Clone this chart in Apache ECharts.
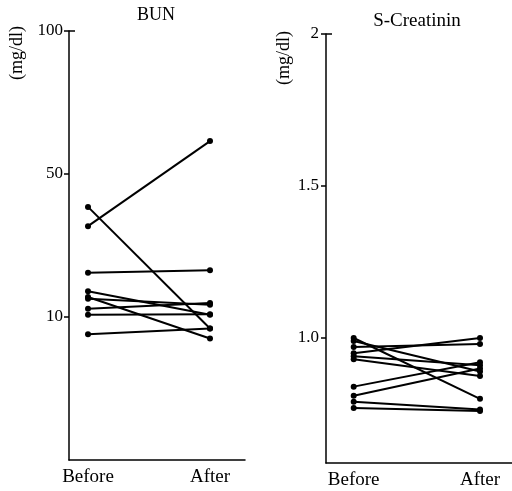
<!DOCTYPE html>
<html>
<head>
<meta charset="utf-8">
<script src="https://cdn.jsdelivr.net/npm/echarts@6/dist/echarts.min.js"></script>
<style>
html, body { margin: 0; padding: 0; background: #fff; }
#echart { width: 512px; height: 491px; }
</style>
</head>
<body>
<div id="echart"></div>
<script>
// 横轴分类
const categories = ['Before', 'After']
// BUN (mg/dl)，每个下标对应一个病例
const bunBefore = [35.4, 40.8, 22.4, 17.2, 15.6, 15.1, 12.3, 10.6, 8.8]
const bunAfter = [61.5, 9.2, 23.1, 10.6, 8.5, 13.4, 13.9, 10.8, 9.2]
// BUN 纵轴刻度在原图中是等距画的
const bunTicks = [0, 10, 50, 100]
const bunTickLabels = ['', '10', '50', '100']
// S-Creatinin (mg/dl)
const creBefore = [1.0, 0.99, 0.97, 0.95, 0.94, 0.93, 0.84, 0.81, 0.79, 0.77]
const creAfter = [0.80, 0.89, 0.98, 1.0, 0.91, 0.875, 0.92, 0.90, 0.765, 0.76]
const creTicks = [1, 1.5, 2]
const creTickLabels = ['1.0', '1.5', '2']

const FONT = 'Liberation Serif'

// mg/dl -> BUN 轴位置（分段线性）
function toBunAxis(v) {
  for (let i = 0; i < bunTicks.length - 1; i++) {
    if (v <= bunTicks[i + 1] || i === bunTicks.length - 2) {
      return i + (v - bunTicks[i]) / (bunTicks[i + 1] - bunTicks[i])
    }
  }
}

function lineSeries(before, after, idx, conv) {
  return before.map((b, i) => ({
    type: 'line',
    xAxisIndex: idx,
    yAxisIndex: idx,
    data: [[0, conv(b)], [1, conv(after[i])]],
    symbol: 'circle',
    symbolSize: 6,
    lineStyle: { color: '#000', width: 2 },
    itemStyle: { color: '#000' },
    silent: true,
    animation: false
  }))
}

function xAxisOf(grid, min, max) {
  return {
    type: 'value',
    gridIndex: grid,
    min: min,
    max: max,
    axisLine: { show: true, onZero: false, lineStyle: { color: '#000', width: 1.5 } },
    axisTick: { show: false },
    splitLine: { show: false },
    axisLabel: {
      customValues: [0, 1],
      formatter: v => categories[Math.round(v)],
      margin: 8,
      color: '#000',
      fontFamily: FONT,
      fontSize: 19
    }
  }
}

function yAxisOf(grid, min, max, ticks, fmt, margin) {
  return {
    type: 'value',
    gridIndex: grid,
    position: 'left',
    min: min,
    max: max,
    axisLine: { show: true, onZero: false, lineStyle: { color: '#000', width: 1.5 } },
    axisTick: { show: true, customValues: ticks, length: 5, lineStyle: { color: '#000', width: 1.5 } },
    splitLine: { show: false },
    axisLabel: {
      customValues: ticks,
      formatter: fmt,
      margin: margin,
      color: '#000',
      fontFamily: FONT,
      fontSize: 17
    }
  }
}

// 轴顶端向右的短刻度
function topTickAxis(grid, min, max) {
  return {
    type: 'value',
    gridIndex: grid,
    position: 'left',
    min: min,
    max: max,
    axisLine: { show: false, onZero: false },
    axisLabel: { show: false },
    splitLine: { show: false },
    axisTick: { show: true, inside: true, customValues: [max], length: 6, lineStyle: { color: '#000', width: 1.5 } }
  }
}

function getOptions() {
  const creMin = 1 - (463 - 338) / 304
  return {
    backgroundColor: '#fff',
    animation: false,
    grid: [
      { left: 69, top: 31, width: 176, height: 429 },
      { left: 326, top: 34, width: 186, height: 429 }
    ],
    xAxis: [
      xAxisOf(0, -19 / 122, 1 + 35 / 122),
      xAxisOf(1, -27.7 / 126.3, 1 + 32 / 126.3)
    ],
    yAxis: [
      yAxisOf(0, 0, bunTicks.length - 1, [1, 2, 3], v => bunTickLabels[Math.round(v)], 6),
      yAxisOf(1, creMin, 2, creTicks, v => creTickLabels[creTicks.indexOf(v)], 7),
      topTickAxis(0, 0, bunTicks.length - 1),
      topTickAxis(1, creMin, 2)
    ],
    graphic: [
      { type: 'text', x: 156, y: 15, style: { text: 'BUN', font: '18px ' + FONT, fill: '#000', textAlign: 'center', textVerticalAlign: 'middle' } },
      { type: 'text', x: 417, y: 21, style: { text: 'S-Creatinin', font: '19px ' + FONT, fill: '#000', textAlign: 'center', textVerticalAlign: 'middle' } },
      { type: 'text', x: 17, y: 53, rotation: Math.PI / 2, style: { text: '(mg/dl)', font: '18px ' + FONT, fill: '#000', textAlign: 'center', textVerticalAlign: 'middle' } },
      { type: 'text', x: 284, y: 58, rotation: Math.PI / 2, style: { text: '(mg/dl)', font: '18px ' + FONT, fill: '#000', textAlign: 'center', textVerticalAlign: 'middle' } }
    ],
    series: [].concat(
      lineSeries(bunBefore, bunAfter, 0, toBunAxis),
      lineSeries(creBefore, creAfter, 1, v => v)
    )
  }
}

const echartInstance = echarts.init(document.getElementById('echart'))
echartInstance.setOption(getOptions(), true)
</script>
</body>
</html>
